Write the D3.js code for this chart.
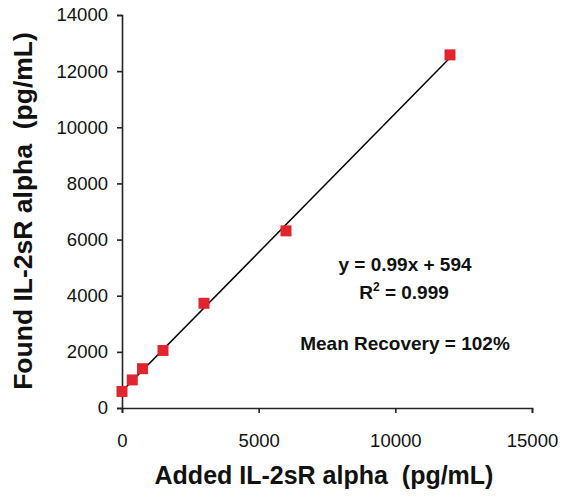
<!DOCTYPE html>
<html lang="en">
<head>
<meta charset="UTF-8">
<title>IL-2sR alpha recovery</title>
<script src="https://d3js.org/d3.v7.min.js"></script>
<style>
    body { margin: 0; background: #fff; }
    svg { font-family: "Liberation Sans", Arial, sans-serif; }
    .axis path, .axis line { stroke: #222; stroke-width: 1.6; }
    .axis text { font-size: 18.5px; fill: #111; }
    .title { font-weight: bold; fill: #111; white-space: pre; }
    .note { font-size: 19px; font-weight: bold; fill: #111; }
</style>
</head>
<body>
<div id="chart"></div>
<script>
    // Spike recovery data
    const added = [0, 375, 750, 1500, 3000, 6000, 12000];
    const found = [590, 1000, 1400, 2050, 3730, 6310, 12580];
    const xTicks = [0, 5000, 10000, 15000];
    const yTicks = [0, 2000, 4000, 6000, 8000, 10000, 12000, 14000];
    const slope = 0.99, intercept = 594;

    const width = 565, height = 497;
    const margin = {top: 15, right: 32, bottom: 88, left: 122};

    const svg = d3.select("#chart").append("svg")
        .attr("width", width)
        .attr("height", height);

    const x = d3.scaleLinear().domain([0, 15000]).range([margin.left, 532]);
    const y = d3.scaleLinear().domain([0, 14000]).range([408, margin.top]);

    svg.append("g")
        .attr("class", "axis")
        .attr("transform", `translate(0,${y(0)})`)
        .call(d3.axisBottom(x).tickValues(xTicks).tickSize(5).tickPadding(21).tickFormat(d3.format("d")));

    svg.append("g")
        .attr("class", "axis")
        .attr("transform", `translate(${x(0)},0)`)
        .call(d3.axisLeft(y).tickValues(yTicks).tickSize(5).tickPadding(9).tickFormat(d3.format("d")));

    // regression line
    svg.append("line")
        .attr("x1", x(0)).attr("y1", y(intercept))
        .attr("x2", x(12000)).attr("y2", y(slope * 12000 + intercept))
        .attr("stroke", "#000").attr("stroke-width", 1.5);

    const pts = added.map((a, i) => ({a, f: found[i]}));
    svg.selectAll(".pt")
        .data(pts)
        .enter().append("rect")
        .attr("class", "pt")
        .attr("x", d => x(d.a) - 5.5)
        .attr("y", d => y(d.f) - 5.5)
        .attr("width", 11).attr("height", 11)
        .attr("fill", "#e0252e");

    svg.append("text").attr("class", "title")
        .attr("x", 324).attr("y", 484)
        .attr("font-size", "25px")
        .attr("text-anchor", "middle")
        .text("Added IL-2sR alpha  (pg/mL)");

    svg.append("text").attr("class", "title")
        .attr("transform", "translate(32,211) rotate(-90)")
        .attr("font-size", "26.5px")
        .attr("text-anchor", "middle")
        .text("Found IL-2sR alpha  (pg/mL)");

    svg.append("text").attr("class", "note")
        .attr("x", 405).attr("y", 271).attr("text-anchor", "middle")
        .text("y = 0.99x + 594");

    const r2 = svg.append("text").attr("class", "note")
        .attr("x", 404).attr("y", 299).attr("text-anchor", "middle");
    r2.append("tspan").text("R");
    r2.append("tspan").attr("dy", -8).attr("font-size", "12px").text("2");
    r2.append("tspan").attr("dy", 8).text(" = 0.999");

    svg.append("text").attr("class", "note")
        .attr("x", 405).attr("y", 350).attr("text-anchor", "middle")
        .text("Mean Recovery = 102%");
</script>
</body>
</html>
